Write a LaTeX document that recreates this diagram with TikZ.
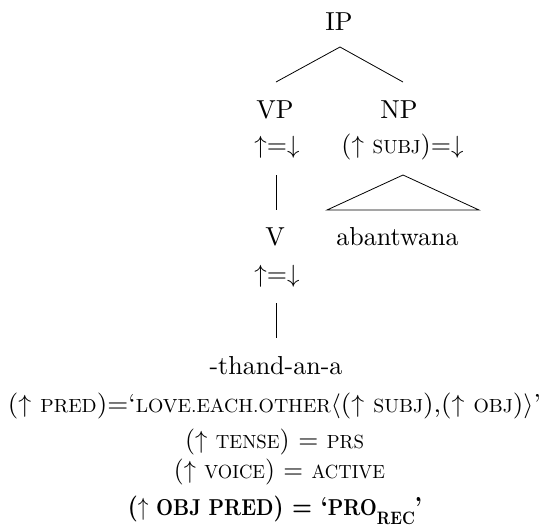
\documentclass[tikz,border=0pt]{standalone}
\usepackage{graphicx}
\usepackage{fontspec}
% Latin Modern at its 10pt design size, used at every size
\setmainfont{lmroman10}[Extension=.otf, UprightFont=*-regular, BoldFont=*-bold, ItalicFont=*-italic]
\newcommand\fsz{\fontsize{26}{30}\selectfont}
% small capitals set as reduced capitals
\newcommand\fsc[1]{{\fontsize{19}{22}\selectfont\MakeUppercase{#1}}}
\newcommand\bsc[1]{{\fontsize{23}{26}\selectfont\bfseries #1}}
\newcommand\subrec{\lower9pt\hbox{\fontsize{18}{20}\selectfont\bfseries REC}}
\newcommand\lineone{\resizebox{533pt}{\height}{($\uparrow$ \fsc{pred})=`\fsc{love.each.other}$\langle$($\uparrow$ \fsc{subj}),($\uparrow$ \fsc{obj})$\rangle$'}}
\newcommand\linetwo{\resizebox{179pt}{\height}{($\uparrow$ \fsc{tense}) = \fsc{prs}}}
\newcommand\linethree{\resizebox{211pt}{\height}{($\uparrow$ \fsc{voice}) = \fsc{active}}}
\newcommand\linefour{\resizebox{294pt}{\height}{\textbf{(}$\uparrow$ \bsc{OBJ PRED}\textbf{) = `}\bsc{PRO}\subrec\textbf{'}}}
\begin{document}
\begin{tikzpicture}[x=1pt,y=-1pt,
  lbl/.style={inner sep=0pt, anchor=base, font=\fsz},
  edge/.style={line width=0.8pt}]
\useasboundingbox (0,0) rectangle (542,528);
% c-structure nodes
\node[lbl] (ip) at (339,30) {IP};
\node[lbl] (vp) at (275,118) {VP};
\node[lbl] (np) at (399,118) {NP};
\node[lbl] (vpann) at (277,153) {$\uparrow$=$\downarrow$};
\node[lbl] (npann) at (402.5,153) {($\uparrow$ \fsc{subj})=$\downarrow$};
\node[lbl] (v) at (275,245) {V};
\node[lbl] (ab) at (397.5,245) {abantwana};
\node[lbl] (vann) at (277,282) {$\uparrow$=$\downarrow$};
\node[lbl] (thand) at (276,374) {-thand-an-a};
% f-description lines
\node[lbl] (f1) at (274.5,412) {\lineone};
\node[lbl] (f2) at (274.5,448) {\linetwo};
\node[lbl] (f3) at (279.5,478) {\linethree};
\node[lbl] (f4) at (275,515) {\linefour};
% branch end points
\coordinate (ipb) at (340,47);
\coordinate (vpt) at (276,82);
\coordinate (npt) at (403,82);
\coordinate (vpb) at (276,175);
\coordinate (vt) at (276,210);
\coordinate (vb) at (276,303);
\coordinate (tht) at (276,338);
\draw[edge] (vpt) -- (ipb) -- (npt);
\draw[edge] (vpb) -- (vt);
\draw[edge] (vb) -- (tht);
% triangle over the NP yield
\draw[edge] (403,175) -- (327,210) -- (479,210) -- cycle;
\end{tikzpicture}
\end{document}
